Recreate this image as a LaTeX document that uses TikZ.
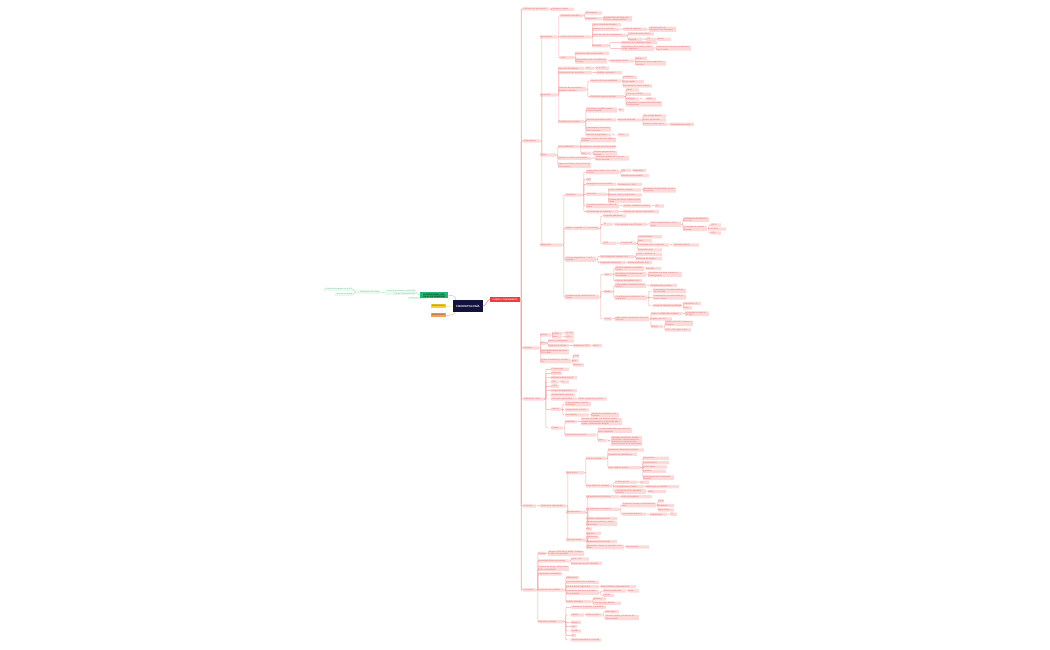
\documentclass[tikz,border=0pt]{standalone}
\usepackage{fontspec}
\setmainfont{Liberation Sans}
\definecolor{nfill}{HTML}{FCDADA}
\definecolor{ntext}{HTML}{E36E6B}
\definecolor{lnc}{HTML}{F6A8A8}
\definecolor{trk}{HTML}{F6A2A2}
\definecolor{navy}{HTML}{12123C}
\definecolor{redn}{HTML}{EF3D3D}
\definecolor{grnn}{HTML}{22B473}
\definecolor{grnl}{HTML}{9BE0BC}
\definecolor{mint}{HTML}{D9F6E6}
\definecolor{gtext}{HTML}{6CCB98}
\definecolor{gfill}{HTML}{EAF8F0}
\definecolor{yeln}{HTML}{F6D22C}
\definecolor{oran}{HTML}{F5A15A}
\newcommand\nd[5]{\node[nb,text width=#4pt] (#1) at (#2,#3) {#5};}
\newcommand\cn[2]{\foreach \c in {#2}{\draw[ln] (#1.east) -- ++(1.5,0) |- (\c.west);}}
\begin{document}
\begin{tikzpicture}[x=1pt,y=-1pt,
  nb/.style={fill=nfill,text=ntext,font=\fontsize{2}{2.3}\selectfont,inner xsep=0.5pt,inner ysep=0.5pt,minimum height=3.3pt,anchor=west,align=left,rounded corners=0.5pt},
  gb/.style={fill=gfill,text=gtext,font=\fontsize{2}{2.3}\selectfont,inner xsep=0.5pt,inner ysep=0.5pt,minimum height=3.3pt,anchor=east,align=right},
  ln/.style={draw=lnc,line width=0.45pt,rounded corners=0.8pt},
  trunkline/.style={draw=trk,line width=0.7pt,rounded corners=1pt},
  gline/.style={draw=grnl,line width=0.5pt}]
\useasboundingbox[fill=white] (0,0) rectangle (1050,650);

% ---------- centre ----------
\node[fill=navy,text=white,font=\fontsize{2.8}{3}\selectfont\bfseries,minimum width=30pt,minimum height=12pt,inner sep=0.5pt] (cen) at (468,306) {FISIOPATOLOGÍA};
\node[fill=redn,text=white,font=\fontsize{2}{2.3}\selectfont\bfseries,minimum width=30pt,minimum height=5pt,inner sep=0.5pt] (red) at (505,299.5) {CLÍNICA Y TRATAMIENTO};
\node[fill=mint,text=mint!60!green,font=\fontsize{1.6}{2}\selectfont,minimum width=20pt,minimum height=2.6pt,inner sep=0.2pt] (mnt) at (418,297.8) {Atlanta revisada 2012};
\node[fill=grnn,text=black!80!green,font=\fontsize{2}{2.3}\selectfont\bfseries,text width=27pt,align=center,inner sep=0.6pt,minimum height=6pt] (grn) at (434,295.3) {CLASIFICACIÓN Y ESCALAS DE GRAVEDAD};
\node[fill=yeln,text=black!80,font=\fontsize{2}{2.3}\selectfont,minimum width=15pt,minimum height=4pt,inner sep=0.4pt] (yel) at (438.5,306.3) {PROTOCOLO};
\node[fill=oran,text=black!80,font=\fontsize{2}{2.3}\selectfont,minimum width=15pt,minimum height=4pt,inner sep=0.4pt] (ora) at (438.5,315.3) {PROTOCOLO};

\node[gb,text width=30pt] (g1) at (416,292.5) {Criterios de Ranson y APACHE II para la estratificación};
\node[gb,text width=23pt] (g2) at (380,292) {Evaluación del riesgo};
\node[gb,text width=29pt] (g3) at (353,289.3) {Criterios de ingreso en la UCI};
\node[gb,text width=17pt] (g4) at (353,294.3) {Manejo en planta};

\draw[gline] ([xshift=3pt]cen.north west) .. controls +(0,-4) and +(4,0) .. (grn.east);
\draw[draw=yeln!80,line width=0.5pt] (cen.west) -- (yel.east);
\draw[draw=oran!80,line width=0.5pt] ([xshift=2pt]cen.south west) .. controls +(0,3) and +(4,0) .. (ora.east);
\draw[draw=redn!60,line width=0.6pt] (cen.east) .. controls +(3,0) and +(-3,0) .. (red.west);
\draw[gline] (grn.west) .. controls +(-2,0) and +(2,0) .. (g1.east);
\draw[gline] (g1.west) -- (g2.east);
\draw[gline] (g2.west) .. controls +(-2,0) and +(2,0) .. (g3.east);
\draw[gline] (g2.west) .. controls +(-2,0) and +(2,0) .. (g4.east);

% ---------- level 1 ----------
\nd{A1}{523}{9}{25}{Definición de pancreatitis}
\nd{A2}{523}{141}{16}{Etiopatogenia}
\nd{A3}{523}{348}{15}{Etiología}
\nd{A4}{523}{399}{20}{Tratamiento inicial}
\nd{A5}{523}{506}{12}{Evolución}
\nd{A6}{523}{590}{12}{Pronóstico}
\foreach \a in {A1,A2,A3,A4,A5,A6}{\draw[trunkline] (red.east) -- ++(1,0) |- (\a.west);}

\nd{A1a}{551}{9.3}{22}{Inflamación aguda}
\cn{A1}{A1a}

% ---------- A2 ----------
\nd{B1}{540}{37}{16}{Mecanismos}
\nd{B2}{540}{95}{16}{Respuesta}
\nd{B3}{540}{155}{15}{Clínica}
\nd{B4}{540}{245}{21}{Diagnóstico}
\cn{A2}{B1,B2,B3,B4}

% B1
\nd{C1}{560}{15.7}{22}{Activación enzimática}
\nd{D1}{585}{13}{16}{Tripsinógeno}
\nd{D2}{585}{18.7}{16}{Catepsina B}
\nd{E1}{603}{18.7}{28}{Autodigestión del tejido pancreático y peripancreático}
\nd{C2}{560}{37}{30}{Lesión de la célula acinar}
\nd{D3}{592}{24.7}{28}{Calcio intracelular elevado}
\nd{D4}{592}{29.3}{26}{Bloqueo de la secreción}
\nd{E2}{623}{29.3}{23}{Fusión de gránulos}
\nd{F1}{649}{29.3}{26}{Colocalización de zimógenos con lisosomas}
\nd{D5}{592}{35.3}{33}{Estrés del retículo endoplásmico}
\nd{E3}{628}{34}{25}{Disfunción mitocondrial}
\nd{E4}{628}{39.3}{13}{Necrosis}
\nd{F2}{646}{39.3}{9}{ATP}
\nd{G1}{657}{39.3}{13}{Muerte}
\nd{D6}{592}{45.7}{15}{Autofagia}
\nd{E5}{621}{42.7}{35}{Alteración de la autofagia celular}
\nd{E6}{621}{48.3}{32}{Acumulación de vacuolas y daño celular progresivo}
\nd{F3}{656}{48.3}{34}{Liberación de citocinas proinflamatorias al medio}
\nd{C3}{560}{57.7}{13}{Inicio}
\nd{D7}{575}{53.3}{33}{Obstrucción del conducto biliar}
\nd{D8}{575}{61}{31}{Reflujo biliar hacia el conducto de Wirsung}
\nd{E7}{610}{61}{23}{Hipertensión ductal}
\nd{F4}{635}{58.3}{11}{Edema}
\nd{F5}{635}{63.3}{30}{Ruptura de ductos pequeños e intersticio}
\cn{B1}{C1,C2,C3}
\cn{C1}{D1,D2}\cn{D2}{E1}
\cn{C2}{D3,D4,D5,D6}\cn{D4}{E2}\cn{E2}{F1}\cn{D5}{E3,E4}\cn{E4}{F2}\cn{F2}{G1}
\cn{D6}{E5,E6}\cn{E6}{F3}
\cn{C3}{D7,D8}\cn{D8}{E7}\cn{E7}{F4,F5}

% B2
\nd{C4}{558}{68.3}{25}{Reacción inflamatoria}
\nd{D9}{586}{68.3}{7}{IL-1}
\nd{E8}{596}{68.3}{12}{IL-6, TNF}
\nd{C5}{558}{72.7}{33}{Reclutamiento de neutrófilos}
\nd{D10}{596}{72.7}{25}{Estallido respiratorio}
\nd{C6}{558}{89.3}{27}{Síndrome de respuesta inflamatoria sistémica}
\nd{D11}{590}{81}{30}{Aumento de la permeabilidad}
\nd{E9}{623}{77.3}{13}{Vasoplejía}
\nd{E10}{623}{81.7}{20}{Fuga capilar}
\nd{E11}{623}{86}{28}{Hipovolemia y tercer espacio}
\nd{D12}{590}{96.7}{33}{Disfunción orgánica múltiple}
\nd{E12}{626}{90}{12}{Renal}
\nd{E13}{626}{94.3}{24}{Pulmonar (SDRA)}
\nd{E14}{626}{99}{12}{Cardiaca}
\nd{F6}{646}{99}{9}{Shock}
\nd{E15}{626}{104}{35}{Coagulación intravascular diseminada y alteraciones}
\nd{C7}{558}{121.7}{25}{Complicaciones locales}
\nd{D13}{586}{110}{30}{Colecciones líquidas peripancreáticas agudas}
\nd{E16}{619}{110}{4}{Sí}
\nd{D14}{586}{120}{29}{Necrosis pancreática estéril}
\nd{E17}{618}{120}{22}{Necrosis infectada}
\nd{F7}{643}{116}{22}{Gas retroperitoneal}
\nd{F8}{643}{120}{22}{Fiebre persistente}
\nd{F9}{643}{124.3}{23}{Deterioro clínico grave}
\nd{G2}{670}{124.3}{23}{Desbridamiento tardío}
\nd{D15}{586}{129.3}{24}{Pseudoquiste pancreático tras 4 semanas}
\nd{D16}{586}{135}{24}{Necrosis encapsulada}
\nd{E18}{618}{135}{10}{WON}
\cn{B2}{C4,C5,C6,C7}
\cn{C4}{D9}\cn{D9}{E8}\cn{C5}{D10}
\cn{C6}{D11,D12}\cn{D11}{E9,E10,E11}\cn{D12}{E12,E13,E14,E15}\cn{E14}{F6}
\cn{C7}{D13,D14,D15,D16}\cn{D13}{E16}\cn{D14}{E17}\cn{E17}{F7,F8,F9}\cn{F9}{G2}\cn{D16}{E18}

% B3
\nd{C8}{558}{146.7}{20}{Dolor abdominal}
\nd{D17}{581}{140}{34}{Epigástrico intenso, de inicio súbito y continuo}
\nd{D18}{581}{147}{34}{Irradiado en cinturón hacia la espalda}
\nd{D19}{581}{153.3}{9}{Alivio}
\nd{E19}{593}{153.3}{23}{Posición genupectoral o inclinado}
\nd{C9}{558}{158.3}{32}{Náuseas y vómitos persistentes}
\nd{D20}{595}{158.3}{33}{Distensión abdominal e íleo paralítico asociado}
\nd{C10}{558}{165.5}{32}{Signos de Cullen y Grey-Turner en casos graves}
\cn{B3}{C8,C9,C10}
\cn{C8}{D17,D18,D19}\cn{D19}{E19}\cn{C9}{D20}

% B4
\nd{C11}{565}{195}{16}{Laboratorio}
\nd{D21}{586}{172}{32}{Lipasa sérica mayor a tres veces el límite}
\nd{E20}{621}{170.5}{9}{Alta}
\nd{F10}{633}{170.5}{12}{Específica}
\nd{E21}{621}{175.7}{27}{Amilasa sérica elevada}
\nd{D22}{586}{179.5}{4}{PCR}
\nd{D23}{586}{184.3}{29}{Hemograma con leucocitosis}
\nd{E22}{618}{184.3}{23}{Hematocrito > 44\%}
\nd{D24}{586}{194.3}{20}{Bioquímica}
\nd{E23}{608}{190}{32}{Urea y creatinina elevadas}
\nd{F11}{643}{190}{32}{Marcadores de gravedad y pronóstico precoz}
\nd{E24}{608}{195}{33}{Glucosa, calcio y triglicéridos}
\nd{E25}{608}{200.5}{32}{Pruebas de función hepática y bilirrubina}
\nd{D25}{586}{206}{32}{Gasometría arterial con déficit de bases}
\nd{E26}{623}{206}{27}{Acidosis metabólica y lactato}
\nd{F12}{655}{206}{8}{pH}
\nd{D26}{586}{211.7}{32}{Procalcitonina en sospecha}
\nd{E27}{623}{211.7}{35}{Infección de necrosis pancreática}
\nd{C12}{565}{228.3}{33}{Imagen: ecografía, TC y resonancia}
\nd{D27}{603}{216}{22}{Ecografía abdominal}
\nd{D28}{603}{224.3}{8}{TC}
\nd{E28}{615}{224.3}{31}{Con contraste a las 72 horas}
\nd{F13}{650}{224.3}{30}{Índice de gravedad por tomografía}
\nd{G3}{683}{219.5}{25}{Clasificación de Balthazar de A a E}
\nd{G4}{683}{228.5}{23}{Porcentaje de necrosis glandular}
\nd{H1}{710}{225}{10}{<30\%}
\nd{H2}{710}{229}{15}{30–50\%}
\nd{H3}{710}{233}{10}{>50\%}
\nd{D29}{603}{243.3}{12}{RMN}
\nd{E29}{620}{243.3}{15}{Colangio-RM}
\nd{F14}{638}{236.7}{23}{Coledocolitiasis}
\nd{F15}{638}{240.7}{13}{Barro}
\nd{F16}{638}{245}{30}{Anomalías de los conductos}
\nd{G5}{673}{245}{25}{Páncreas divisum}
\nd{F17}{638}{250}{23}{Ecoendoscopia}
\nd{C13}{565}{259.3}{30}{Criterios diagnósticos: 2 de 3 requisitos}
\nd{D30}{600}{256.7}{33}{Dolor abdominal característico}
\nd{E30}{636}{254.3}{25}{Lipasa o amilasa ×3}
\nd{E31}{636}{258.6}{25}{Hallazgos de imagen}
\nd{D31}{600}{262.7}{25}{Diagnóstico diferencial}
\nd{E32}{628}{262.7}{23}{Úlcera perforada, IAM}
\nd{C14}{565}{297}{33}{Gravedad según clasificación de Atlanta}
\nd{D32}{604}{274.5}{7}{Leve}
\nd{E33}{615}{268.5}{28}{Sin fallo orgánico ni complicaciones}
\nd{F18}{646}{268.5}{14}{Sin fallo}
\nd{E34}{615}{274.5}{30}{Resolución en la primera semana habitual}
\nd{F19}{648}{274.5}{33}{Mortalidad muy baja, manejo en planta general}
\nd{E35}{615}{280.7}{26}{Estancia hospitalaria corta}
\nd{D33}{604}{291.7}{7}{Media}
\nd{E36}{615}{285.5}{30}{Fallo orgánico transitorio menor de 48 h}
\nd{F20}{650}{285.5}{26}{Complicaciones locales}
\nd{E37}{615}{297.7}{31}{Complicaciones sistémicas o exacerbación}
\nd{F21}{653}{291}{32}{Exacerbación de enfermedad previa coronaria}
\nd{F22}{653}{297.3}{32}{Exacerbación de enfermedad pulmonar crónica}
\nd{F23}{653}{305.5}{28}{Escala de Marshall modificada}
\nd{G6}{683}{303.5}{17}{Puntuación ≥ 2}
\nd{G7}{683}{308}{8}{SOFA}
\nd{D34}{604}{319}{7}{Grave}
\nd{E38}{615}{319}{33}{Fallo orgánico persistente mayor de 48 horas}
\nd{F24}{651}{313.7}{30}{Único o múltiple fallo orgánico}
\nd{G8}{685}{313.7}{23}{Mortalidad de hasta el 30–40\%}
\nd{F25}{651}{319}{20}{Ingreso en UCI}
\nd{F26}{651}{326.5}{11}{Scores}
\nd{G9}{665}{323.5}{27}{BISAP, APACHE II, Ranson y Glasgow}
\nd{G10}{665}{330}{25}{PCR > 150 mg/L a 48 h}
\cn{B4}{C11,C12,C13,C14}
\cn{C11}{D21,D22,D23,D24,D25,D26}\cn{D21}{E20,E21}\cn{E20}{F10}\cn{D23}{E22}
\cn{D24}{E23,E24,E25}\cn{E23}{F11}\cn{D25}{E26}\cn{E26}{F12}\cn{D26}{E27}
\cn{C12}{D27,D28,D29}\cn{D28}{E28}\cn{E28}{F13}\cn{F13}{G3,G4}\cn{G4}{H1,H2,H3}
\cn{D29}{E29}\cn{E29}{F14,F15,F16,F17}\cn{F16}{G5}
\cn{C13}{D30,D31}\cn{D30}{E30,E31}\cn{D31}{E32}
\cn{C14}{D32,D33,D34}\cn{D32}{E33,E34,E35}\cn{E33}{F18}\cn{E34}{F19}
\cn{D33}{E36,E37}\cn{E36}{F20}\cn{E37}{F21,F22,F23}\cn{F23}{G6,G7}
\cn{D34}{E38}\cn{E38}{F24,F25,F26}\cn{F24}{G8}\cn{F26}{G9,G10}

% ---------- A3 ----------
\nd{B5}{540}{335}{10}{Biliares}
\nd{C15}{552}{333.3}{9}{Litiasis}
\nd{D35}{565}{333.3}{8}{40–70\%}
\nd{C16}{552}{337}{9}{Barro}
\nd{D36}{565}{337}{8}{<10\%}
\nd{B6}{540}{343.3}{5}{Otras}
\nd{C17}{548}{341}{25}{Alcohol y tabaquismo}
\nd{C18}{548}{345.7}{20}{Fármacos y tóxicos}
\nd{D37}{573}{345.7}{17}{Azatioprina, VPA}
\nd{E39}{593}{345.7}{8}{Otros}
\nd{B7}{540}{351.7}{28}{Hipertrigliceridemia mayor de 1000 mg/dL}
\nd{B8}{540}{361}{30}{Causas metabólicas y mecánicas}
\nd{C19}{573}{356.3}{5}{CPRE}
\nd{C20}{573}{360.7}{5}{Ca}
\nd{C21}{573}{365}{10}{Tumores}
\cn{A3}{B5,B6,B7,B8}
\cn{B5}{C15,C16}\cn{C15}{D35}\cn{C16}{D36}
\cn{B6}{C17,C18}\cn{C18}{D37}\cn{D37}{E39}
\cn{B8}{C19,C20,C21}

% ---------- A4 ----------
\nd{B9}{551}{369.3}{17}{Fluidoterapia}
\nd{B10}{551}{373.3}{10}{Analgesia}
\nd{B11}{551}{377.7}{25}{Nutrición enteral precoz}
\nd{B12}{551}{382}{6}{ATB}
\nd{C22}{561}{382}{7}{No}
\nd{B13}{551}{386.3}{7}{CPRE}
\nd{B14}{551}{390.7}{25}{Control de la glucemia}
\nd{B15}{551}{395}{23}{Monitorización estrecha}
\nd{B16}{551}{399}{25}{Corrección electrolítica}
\nd{C23}{578}{399}{28}{Calcio, magnesio y potasio}
\nd{B17}{551}{409.3}{9}{Soporte}
\nd{C24}{565}{404}{25}{Oxigenoterapia y soporte ventilatorio}
\nd{C25}{565}{410}{23}{Vasopresores si shock}
\nd{C26}{565}{415}{23}{Hemodiálisis}
\nd{D38}{591}{415}{27}{Terapia de reemplazo renal continua}
\nd{B18}{551}{428}{11}{Cirugía}
\nd{C27}{565}{421.7}{11}{Indicación}
\nd{D39}{581}{421.7}{40}{Necrosis infectada con deterioro clínico a pesar del tratamiento conservador adecuado y antibioterapia dirigida}
\nd{C28}{565}{435}{30}{Colecistectomía precoz}
\nd{D40}{598}{430.5}{33}{En pancreatitis biliar leve antes del alta hospitalaria}
\nd{D41}{598}{440.5}{8}{Step}
\nd{E40}{611}{441}{30}{Abordaje escalonado: drenaje percutáneo, necrosectomía endoscópica y cirugía mínimamente invasiva si no hay mejoría}
\cn{A4}{B9,B10,B11,B12,B13,B14,B15,B16,B17,B18}
\cn{B12}{C22}\cn{B16}{C23}
\cn{B17}{C24,C25,C26}\cn{C26}{D38}
\cn{B18}{C27,C28}\cn{C27}{D39}\cn{C28}{D40,D41}\cn{D41}{E40}

% ---------- A5 ----------
\nd{B19}{540}{506}{25}{Fases de la enfermedad}
\nd{C29}{566}{472.7}{17}{Fase precoz}
\nd{D42}{586}{458.3}{19}{Primera semana}
\nd{E41}{608}{450}{35}{Respuesta inflamatoria sistémica}
\nd{E42}{608}{454.3}{28}{Liberación de mediadores}
\nd{E43}{608}{467.7}{32}{Fallo orgánico precoz}
\nd{F27}{643}{458.3}{25}{Respiratorio}
\nd{F28}{643}{462.7}{25}{Cardiovascular}
\nd{F29}{643}{467}{23}{Renal agudo}
\nd{F30}{643}{471.3}{22}{Hepático}
\nd{F31}{643}{477.7}{30}{Determinado por la escala de Marshall}
\nd{D43}{586}{486}{25}{Fase tardía (>1 semana)}
\nd{E44}{615}{482.3}{21}{Formas graves}
\nd{F32}{640}{482.3}{8}{Sí}
\nd{E45}{615}{486.7}{28}{Complicaciones locales}
\nd{F33}{646}{486.7}{32}{Colecciones y necrosis}
\nd{E46}{615}{491.5}{30}{Persistencia de la respuesta sistémica}
\nd{F34}{648}{491.5}{17}{SIRS}
\nd{C30}{566}{512.3}{19}{Complicaciones}
\nd{D44}{586}{496.7}{32}{Complicaciones sistémicas}
\nd{E47}{621}{496.7}{30}{Fallo multiorgánico}
\nd{D45}{586}{509.3}{32}{Complicaciones vasculares}
\nd{E48}{622}{505}{33}{Trombosis venosa y pseudoaneurismas}
\nd{F35}{658}{501}{5}{Porta}
\nd{F36}{658}{505.5}{15}{Esplénica}
\nd{F37}{658}{510}{15}{Mesentérica}
\nd{E49}{622}{514.3}{23}{Hemorragia digestiva}
\nd{F38}{650}{514.3}{16}{Embolización}
\nd{G11}{670}{514.3}{6}{TC}
\nd{D46}{586}{518.5}{30}{Síndrome compartimental}
\nd{D47}{586}{523.5}{30}{Fístulas pancreáticas y ascitis pancreática}
\nd{D48}{586}{529}{5}{DM}
\nd{C31}{566}{540}{19}{Secuelas tardías}
\nd{D49}{586}{533.3}{14}{Diabetes}
\nd{D50}{586}{537.3}{12}{Esteatorrea}
\nd{D51}{586}{541.7}{30}{Insuficiencia exocrina leve}
\nd{D52}{586}{547}{37}{Pancreatitis crónica en episodios recurrentes}
\nd{E50}{626}{547}{22}{Recurrencias}
\cn{A5}{B19}
\cn{B19}{C29,C30,C31}
\cn{C29}{D42,D43}\cn{D42}{E41,E42,E43}\cn{E43}{F27,F28,F29,F30,F31}
\cn{D43}{E44,E45,E46}\cn{E44}{F32}\cn{E45}{F33}\cn{E46}{F34}
\cn{C30}{D44,D45,D46,D47,D48}\cn{D44}{E47}\cn{D45}{E48,E49}\cn{E48}{F35,F36,F37}\cn{E49}{F38}\cn{F38}{G11}
\cn{C31}{D49,D50,D51,D52}\cn{D52}{E50}

% ---------- A6 ----------
\nd{B20}{538}{553.3}{7}{Escalas}
\nd{C32}{548}{553.3}{35}{Ranson, APACHE II, BISAP, Glasgow e índice de gravedad}
\nd{B21}{538}{561}{30}{Mortalidad global aproximada}
\nd{C33}{571}{559}{17}{Leve < 1\%}
\nd{C34}{571}{563.3}{30}{Grave con necrosis infectada}
\nd{B22}{538}{568.5}{30}{Factores de riesgo: edad, obesidad y comorbilidad}
\nd{B23}{538}{574}{23}{Seguimiento ambulatorio}
\nd{B24}{538}{590}{25}{Prevención de recaídas}
\nd{C35}{566}{577.7}{12}{Abstinencia}
\nd{C36}{566}{582.3}{32}{Colecistectomía tras el episodio}
\nd{C37}{566}{586.7}{32}{Control de los triglicéridos}
\nd{D53}{601}{586.7}{34}{Dieta, fibratos y plasmaféresis}
\nd{C38}{566}{592.5}{32}{Retirada de fármacos implicados en el episodio}
\nd{D54}{603}{591}{22}{Revisar medicación}
\nd{E51}{628}{591}{10}{Evitar}
\nd{D55}{603}{595.3}{10}{Alergia}
\nd{C39}{566}{601.7}{24}{Estudio etiológico}
\nd{D56}{593}{599}{12}{Genética}
\nd{D57}{593}{603.3}{27}{Ecoendoscopia diferida}
\nd{B25}{538}{621.7}{25}{Educación sanitaria}
\nd{C40}{571}{607.3}{34}{Información al paciente y familiares}
\nd{C41}{571}{615}{12}{Hábitos}
\nd{D58}{586}{615}{15}{Estilo de vida}
\nd{E52}{605}{611.7}{13}{Dieta sana}
\nd{E53}{605}{617.5}{33}{Ejercicio regular y reducción del peso corporal}
\nd{C42}{571}{622.3}{9}{Tabaco}
\nd{C43}{571}{626.7}{5}{Sal}
\nd{C44}{571}{631}{9}{Grasas}
\nd{C45}{571}{635.3}{4}{Té}
\nd{C46}{571}{640}{29}{Revisión periódica en consulta}
\cn{A6}{B20,B21,B22,B23,B24,B25}
\cn{B20}{C32}\cn{B21}{C33,C34}
\cn{B24}{C35,C36,C37,C38,C39}\cn{C37}{D53}\cn{C38}{D54,D55}\cn{D54}{E51}\cn{C39}{D56,D57}
\cn{B25}{C40,C41,C42,C43,C44,C45,C46}\cn{C41}{D58}\cn{D58}{E52,E53}
\end{tikzpicture}
\end{document}
